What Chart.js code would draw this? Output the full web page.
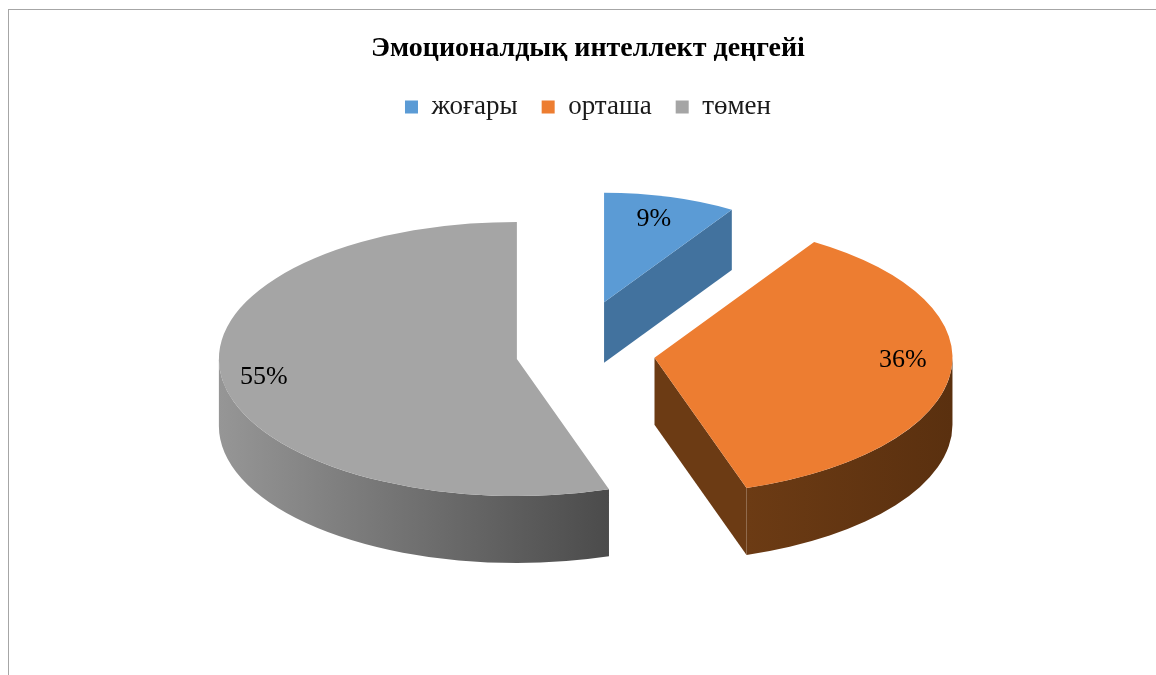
<!DOCTYPE html>
<html>
<head>
<meta charset="utf-8">
<title>Эмоционалдық интеллект деңгейі</title>
<script src="https://cdn.jsdelivr.net/npm/chart.js@4.4.1/dist/chart.umd.min.js"></script>
<style>
    html, body { margin: 0; padding: 0; background: #fff; }
    #wrap { position: relative; width: 1156px; height: 675px; }
    #frame { position: absolute; left: 8px; top: 9px; right: 0; bottom: 0;
             border-left: 1px solid #a6a6a6; border-top: 1px solid #a6a6a6; pointer-events: none; }
</style>
</head>
<body>
<div id="wrap">
    <canvas id="chartLevels" width="1156" height="675"></canvas>
    <div id="frame"></div>
</div>
<script>
// data
var categories = ['жоғары', 'орташа', 'төмен'];
var values = [9, 36, 55];

// styles
var topColors = ['#5b9bd5', '#ed7d31', '#a5a5a5'];
var sideColors = [['#42729e', '#3a668f'], ['#6c3b14', '#5a300f'], ['#969696', '#4b4b4b']];

var serif = '"Liberation Serif", "Times New Roman", serif';

// where a slice sits once exploded and shrunk toward the horizon (fake perspective)
function sliceGeom(arc, i, opts) {
    var mid = (arc.startAngle + arc.endAngle) / 2;
    var s = opts.scale[i];
    var d = opts.explode[i];
    var hy = arc.y - opts.horizon;
    var nx = arc.x + d * Math.cos(mid);
    var ny = arc.y + d * Math.sin(mid) * opts.tilt;
    return {
        x: arc.x + s * (nx - arc.x),
        y: hy + s * (ny - hy),
        R: arc.outerRadius * s,
        ry: arc.outerRadius * s * opts.tilt,
        s: s,
        mid: mid
    };
}

// draws the pie tilted with a side wall, then the percent labels
var pie3d = {
    id: 'pie3d',
    beforeDatasetDraw: function (chart, args, opts) {
        var ctx = chart.ctx;
        var arcs = args.meta.data;

        arcs.forEach(function (arc, i) {
            var g = sliceGeom(arc, i, opts);
            var depth = opts.depth * (0.5 + 0.5 * g.s);
            var cols = sideColors[i];

            // radial faces that look toward the viewer
            [[arc.endAngle, Math.cos(arc.endAngle) > 0.02], [arc.startAngle, Math.cos(arc.startAngle) < -0.02]].forEach(function (e) {
                if (!e[1]) return;
                var px = g.x + g.R * Math.cos(e[0]);
                var py = g.y + g.ry * Math.sin(e[0]);
                ctx.beginPath();
                ctx.moveTo(g.x, g.y);
                ctx.lineTo(px, py);
                ctx.lineTo(px, py + depth);
                ctx.lineTo(g.x, g.y + depth);
                ctx.closePath();
                ctx.fillStyle = cols[0];
                ctx.fill();
            });

            // curved outer wall, front half only
            for (var n = 0; n <= 1; n++) {
                var lo = Math.max(arc.startAngle, n * 2 * Math.PI);
                var hi = Math.min(arc.endAngle, n * 2 * Math.PI + Math.PI);
                if (hi <= lo) continue;
                var x0 = g.x + g.R * Math.cos(hi);
                var x1 = g.x + g.R * Math.cos(lo);
                if (hi > Math.PI / 2 && lo < Math.PI / 2) x0 = Math.min(x0, g.x - g.R);
                var grad = ctx.createLinearGradient(Math.min(x0, x1), 0, Math.max(x0, x1), 0);
                grad.addColorStop(0, cols[0]);
                grad.addColorStop(1, cols[1]);
                ctx.beginPath();
                ctx.ellipse(g.x, g.y, g.R, g.ry, 0, lo, hi, false);
                ctx.lineTo(g.x + g.R * Math.cos(hi), g.y + g.ry * Math.sin(hi) + depth);
                ctx.ellipse(g.x, g.y + depth, g.R, g.ry, 0, hi, lo, true);
                ctx.closePath();
                ctx.fillStyle = grad;
                ctx.fill();
            }
        });

        arcs.forEach(function (arc, i) {
            var g = sliceGeom(arc, i, opts);
            ctx.save();
            ctx.translate(g.x, g.y);
            ctx.scale(g.s, g.s * opts.tilt);
            ctx.translate(-arc.x, -arc.y);
            arc.draw(ctx);
            ctx.restore();
        });
        return false;
    },
    afterDatasetsDraw: function (chart, args, opts) {
        var ctx = chart.ctx;
        var arcs = chart.getDatasetMeta(0).data;
        var total = values.reduce(function (a, b) { return a + b; }, 0);
        ctx.save();
        ctx.font = '26px ' + serif;
        ctx.fillStyle = '#000';
        ctx.textAlign = 'center';
        ctx.textBaseline = 'middle';
        arcs.forEach(function (arc, i) {
            var g = sliceGeom(arc, i, opts);
            var f = opts.labelRadius[i];
            var pct = Math.round(values[i] / total * 100) + '%';
            ctx.fillText(pct, g.x + g.R * f * Math.cos(g.mid), g.y + g.ry * f * Math.sin(g.mid) + opts.labelLift[i]);
        });
        ctx.restore();
    }
};

var ctx = document.getElementById('chartLevels').getContext('2d');
new Chart(ctx, {
    type: 'pie',
    data: {
        labels: categories,
        datasets: [{
            data: values,
            backgroundColor: topColors,
            borderWidth: 0,
            hoverOffset: 0,
            radius: 298
        }]
    },
    plugins: [pie3d],
    options: {
        responsive: false,
        animation: false,
        events: [],
        layout: { padding: { left: 20, right: 0, top: 0, bottom: 98 } },
        plugins: {
            title: {
                display: true,
                text: 'Эмоционалдық интеллект деңгейі',
                color: '#000',
                font: { family: serif, size: 28, weight: 'bold' },
                padding: { top: 32, bottom: 4 }
            },
            legend: {
                position: 'top',
                labels: {
                    color: '#1a1a1a',
                    font: { family: serif, size: 27 },
                    boxWidth: 13,
                    boxHeight: 13,
                    padding: 24
                }
            },
            tooltip: { enabled: false },
            pie3d: {
                tilt: 0.46,
                depth: 67,
                horizon: 130,
                explode: [72, 67, 72],
                scale: [0.8, 1, 1],
                labelRadius: [0.75, 0.84, 0.86],
                labelLift: [-4, -12, 0]
            }
        }
    }
});
</script>
</body>
</html>
